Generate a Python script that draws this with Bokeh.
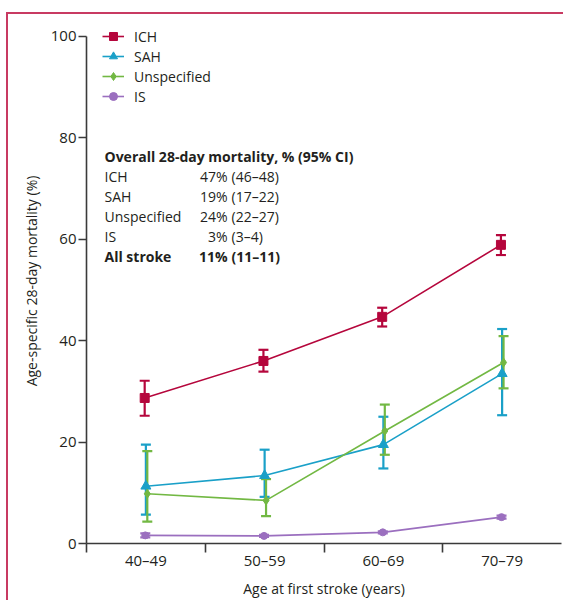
from bokeh.plotting import figure
from bokeh.models import (ColumnDataSource, Whisker, Legend, LegendItem, FixedTicker,
                          Range1d, TeeHead)
from bokeh.embed import file_html
from bokeh.resources import INLINE
from bokeh.core.properties import value

# ---- data ----
ages = ["40–49", "50–59", "60–69", "70–79"]

ich = [28.7, 36.0, 44.7, 58.9]
ich_lo = [25.2, 33.9, 42.8, 56.9]
ich_hi = [32.1, 38.2, 46.5, 60.8]

sah = [11.3, 13.4, 19.5, 33.5]
sah_lo = [5.7, 9.2, 14.8, 25.3]
sah_hi = [19.5, 18.5, 25.0, 42.3]

uns = [9.8, 8.5, 22.2, 35.7]
uns_lo = [4.3, 5.4, 17.5, 30.6]
uns_hi = [18.2, 12.7, 27.4, 40.9]

is_ = [1.6, 1.5, 2.2, 5.2]
is_lo = [1.2, 1.3, 2.0, 4.9]
is_hi = [2.0, 1.7, 2.4, 5.5]

series_names = ["ICH", "SAH", "Unspecified", "IS"]
y_ticks = [0, 20, 40, 60, 80, 100]

tbl_title = "Overall 28-day mortality, % (95% CI)"
tbl_labels = ["ICH", "SAH", "Unspecified", "IS", "All stroke"]
tbl_pct = ["47%", "19%", "24%", "3%", "11%"]
tbl_ci = ["(46–48)", "(17–22)", "(22–27)", "(3–4)", "(11–11)"]

# ---- styling ----
FONT = "Open Sans"
TXT = "#231f20"
AX = "#3a3a3a"
RULE = "#c83a62"
colors = ["#b5063c", "#1aa0c8", "#72b843", "#9b6fbf"]
markers = ["square", "triangle", "diamond", "circle"]
msizes = [9, 10, 9, 7]
offsets = [-0.01, 0.0, 0.012, -0.005]

W, H = 563, 600
FL, FT, FB, FR = 86, 18, 56, 2
Y0_PX, Y100_PX = 544, 36          # canvas rows of y=0 and y=100
PX_PER_Y = (Y0_PX - Y100_PX) / 100.0
y_top = (H - FB - FT) / PX_PER_Y  # range end so that 100 sits at row 36

p = figure(width=W, height=H, x_range=Range1d(-0.5, 3.5), y_range=Range1d(0, y_top),
           output_backend="svg", toolbar_location=None,
           min_border_left=FL, min_border_right=FR, min_border_top=FT, min_border_bottom=FB)
p.outline_line_color = None
p.xgrid.visible = False
p.ygrid.visible = False
p.background_fill_alpha = 0
p.border_fill_alpha = 0
# thin panel rule on the left and top (page decoration), drawn as host background
p.styles = {
    "background": (f"linear-gradient({RULE},{RULE}) 6px 13px / 2px 600px no-repeat, "
                   f"linear-gradient({RULE},{RULE}) 6px 12px / 560px 2px no-repeat, white"),
}

xs = list(range(len(ages)))
legend_items = []
for name, vals, lo, hi, c, m, ms, off in zip(
        series_names, [ich, sah, uns, is_], [ich_lo, sah_lo, uns_lo, is_lo],
        [ich_hi, sah_hi, uns_hi, is_hi], colors, markers, msizes, offsets):
    src = ColumnDataSource(dict(x=[x + off for x in xs], y=vals, lo=lo, hi=hi))
    w = Whisker(source=src, base="x", lower="lo", upper="hi", line_color=c, line_width=2.2,
                upper_head=TeeHead(size=10, line_color=c, line_width=2.2),
                lower_head=TeeHead(size=10, line_color=c, line_width=2.2))
    p.add_layout(w)
    lr = p.line("x", "y", source=src, line_color=c, line_width=1.6)
    sr = p.scatter("x", "y", source=src, marker=m, size=ms, fill_color=c, line_color=c)
    legend_items.append(LegendItem(label=name, renderers=[lr, sr]))

frame_w = W - FL - FR
PX_PER_X = frame_w / 4.0
def dx(px):
    return (px - FL) / PX_PER_X - 0.5
def dy(py):
    return (Y0_PX - py) / PX_PER_Y

legend = Legend(items=legend_items, location=(102 - FL, Y0_PX - 107), padding=0, spacing=0,
                margin=0, glyph_width=22, glyph_height=20, label_height=20, label_standoff=10,
                label_text_font=FONT, label_text_font_size="14px", label_text_color=TXT,
                border_line_alpha=0, background_fill_alpha=0)
p.add_layout(legend, "center")

# ---- summary table (text) ----
row_py = [176 + 20.2 * i for i in range(len(tbl_labels))]
p.text(x=[dx(104)], y=[dy(156)], text=[tbl_title], text_font=value(FONT), text_font_size="14px",
       text_font_style="bold", text_color=TXT, text_baseline="middle", text_align="left")
styles = ["normal"] * (len(tbl_labels) - 1) + ["bold"]
n = len(tbl_labels)
tsrc = ColumnDataSource(dict(
    xl=[dx(104)] * n, xp=[dx(227)] * n, xc=[dx(231)] * n,
    y=[dy(v) for v in row_py], lab=tbl_labels, pct=tbl_pct, ci=tbl_ci, st=styles))
for col, xcol, align in (("lab", "xl", "left"), ("pct", "xp", "right"), ("ci", "xc", "left")):
    p.text(x=xcol, y="y", text=col, source=tsrc, text_font=value(FONT), text_font_size="14px",
           text_font_style="st", text_color=TXT, text_baseline="middle", text_align=align)

# ---- axes ----
xa = p.xaxis[0]
xa.ticker = FixedTicker(ticks=xs, minor_ticks=[x - 0.5 for x in xs])
xa.major_label_overrides = {i: a for i, a in enumerate(ages)}
xa.major_tick_out = 0
xa.major_tick_in = 0
xa.minor_tick_out = 9
xa.minor_tick_in = 0
xa.minor_tick_line_color = AX
xa.minor_tick_line_width = 1.6
xa.axis_line_color = AX
xa.axis_line_width = 1.6
xa.major_label_standoff = -3
xa.major_label_text_font = FONT
xa.major_label_text_font_size = "15px"
xa.major_label_text_color = TXT
xa.axis_label = "Age at first stroke (years)"
xa.axis_label_text_font = FONT
xa.axis_label_text_font_size = "14px"
xa.axis_label_text_font_style = "normal"
xa.axis_label_text_color = TXT
xa.axis_label_standoff = 6

ya = p.yaxis[0]
ya.ticker = FixedTicker(ticks=y_ticks)
ya.bounds = (y_ticks[0], y_ticks[-1])
ya.major_tick_out = 8
ya.major_tick_in = 0
ya.minor_tick_out = 0
ya.minor_tick_in = 0
ya.major_tick_line_color = AX
ya.major_tick_line_width = 1.6
ya.axis_line_color = AX
ya.axis_line_width = 1.6
ya.major_label_standoff = 2
ya.major_label_text_font = FONT
ya.major_label_text_font_size = "15px"
ya.major_label_text_color = TXT
ya.axis_label = "Age-specific 28-day mortality (%)"
ya.axis_label_text_font = FONT
ya.axis_label_text_font_size = "14px"
ya.axis_label_text_font_style = "normal"
ya.axis_label_text_color = TXT
ya.axis_label_standoff = 7

open("out.html", "w").write(file_html(p, INLINE))
